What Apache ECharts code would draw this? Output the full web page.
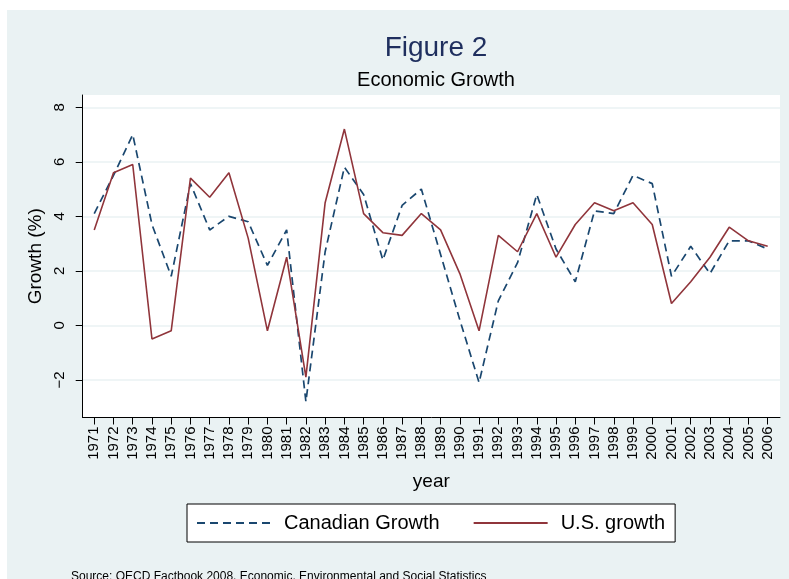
<!DOCTYPE html>
<html>
<head>
<meta charset="utf-8">
<script src="https://cdn.jsdelivr.net/npm/echarts@6/dist/echarts.min.js"></script>
<style>
  html, body { margin: 0; padding: 0; background: #ffffff; }
  #bg { position: absolute; left: 7px; top: 10px; width: 782px; height: 569px; background: #eaf2f3; }
  #chart { position: absolute; left: 0; top: 0; width: 789px; height: 579px; }
</style>
</head>
<body>
<div id="bg"></div>
<div id="chart"></div>
<script>
const years = [1971,1972,1973,1974,1975,1976,1977,1978,1979,1980,1981,1982,1983,1984,1985,1986,1987,1988,
               1989,1990,1991,1992,1993,1994,1995,1996,1997,1998,1999,2000,2001,2002,2003,2004,2005,2006];
const canadianGrowth = [4.1,5.5,7.0,3.7,1.8,5.2,3.5,4.0,3.8,2.2,3.5,-2.8,2.7,5.8,4.8,2.4,4.4,5.0,
                        2.6,0.2,-2.1,0.9,2.3,4.8,2.8,1.6,4.2,4.1,5.5,5.2,1.8,2.9,1.9,3.1,3.1,2.8];
const usGrowth = [3.5,5.6,5.9,-0.5,-0.2,5.4,4.7,5.6,3.2,-0.2,2.5,-1.9,4.5,7.2,4.1,3.4,3.3,4.1,
                  3.5,1.9,-0.2,3.3,2.7,4.1,2.5,3.7,4.5,4.2,4.5,3.7,0.8,1.6,2.5,3.6,3.1,2.9];
const yTicks = [-2,0,2,4,6,8];
const seriesNames = ['Canadian Growth', 'U.S. growth'];

const font = '"Liberation Sans", Arial, sans-serif';
const chart = echarts.init(document.getElementById('chart'), null, { renderer: 'canvas' });

const option = {
  backgroundColor: 'transparent',
  animation: false,
  title: [
    { text: 'Figure 2', left: 431, top: 29, textAlign: 'center',
      textStyle: { fontFamily: font, fontSize: 28, fontWeight: 'normal', color: '#1f2f5e' } },
    { text: 'Economic Growth', left: 431, top: 65, textAlign: 'center',
      textStyle: { fontFamily: font, fontSize: 20, fontWeight: 'normal', color: '#000000' } }
  ],
  grid: { left: 82.7, right: 9, top: 95, bottom: 161.5, show: true, backgroundColor: '#ffffff', borderWidth: 0 },
  legend: {
    left: 187, top: 504,
    backgroundColor: '#ffffff', borderColor: '#000000', borderWidth: 1, borderRadius: 0,
    padding: [9, 10, 9, 9],
    itemWidth: 74, itemHeight: 14, itemGap: 33,
    itemStyle: { opacity: 0 },
    textStyle: { fontFamily: font, fontSize: 20, color: '#000000', padding: [0, 0, 0, 8] },
    data: seriesNames
  },
  xAxis: {
    type: 'value', min: 1970.4, max: 2006.64,
    name: 'year', nameLocation: 'middle', nameGap: 55,
    nameTextStyle: { fontFamily: font, fontSize: 19, color: '#000000' },
    axisLine: { show: true, onZero: false, lineStyle: { color: '#000000', width: 1 } },
    axisTick: { show: true, length: 7, customValues: years, lineStyle: { color: '#000000' } },
    axisLabel: { customValues: years, rotate: 90, margin: 9, fontFamily: font, fontSize: 15, color: '#000000',
                 formatter: v => String(v) },
    splitLine: { show: false }
  },
  yAxis: {
    type: 'value', min: -3.38, max: 8.45,
    name: 'Growth (%)', nameLocation: 'middle', nameGap: 29, nameRotate: 90,
    nameTextStyle: { fontFamily: font, fontSize: 19, color: '#000000' },
    axisLine: { show: true, onZero: false, lineStyle: { color: '#000000', width: 1 } },
    axisTick: { show: true, length: 7, customValues: yTicks, lineStyle: { color: '#000000' } },
    axisLabel: { customValues: yTicks, rotate: 90, margin: 15, fontFamily: font, fontSize: 15, color: '#000000',
                 formatter: v => (v < 0 ? '\u2212' + Math.abs(v) : String(v)) },
    splitLine: { show: true, lineStyle: { color: '#eaf2f3', width: 1.5 } }
  },
  graphic: [
    { type: 'text', left: 71, top: 571,
      style: { text: 'Source: OECD Factbook 2008, Economic, Environmental and Social Statistics',
               font: '12px "Liberation Sans", Arial, sans-serif', fill: '#000000' } }
  ],
  series: [
    { name: seriesNames[0], type: 'line', symbol: 'none',
      data: years.map((y, i) => [y, canadianGrowth[i]]),
      lineStyle: { color: '#1a476f', width: 1.7, type: [8, 5] },
      itemStyle: { color: '#1a476f' } },
    { name: seriesNames[1], type: 'line', symbol: 'none',
      data: years.map((y, i) => [y, usGrowth[i]]),
      lineStyle: { color: '#90353b', width: 1.6 },
      itemStyle: { color: '#90353b' } }
  ]
};
chart.setOption(option);
</script>
</body>
</html>
